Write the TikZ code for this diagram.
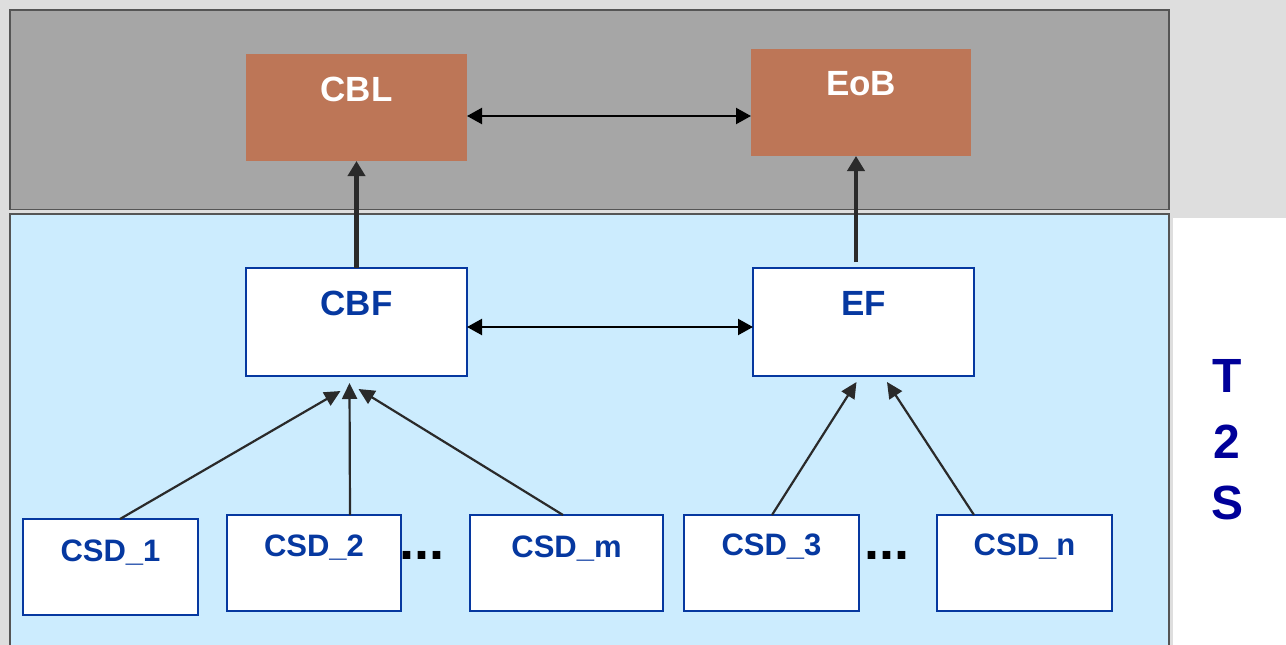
\documentclass[tikz,border=0pt]{standalone}
\usepackage{fontspec}
\setmainfont{Liberation Sans}
\usetikzlibrary{arrows.meta,calc}
\definecolor{bggray}{HTML}{DEDEDE}
\definecolor{panelgray}{HTML}{A6A6A6}
\definecolor{panelblue}{HTML}{CCECFE}
\definecolor{panelline}{HTML}{555555}
\definecolor{rust}{HTML}{BD7657}
\definecolor{boxblue}{HTML}{0638A0}
\definecolor{navy}{HTML}{000099}
\definecolor{darkline}{HTML}{2A2A2A}
\tikzset{
  panel/.style={draw=panelline, line width=1.2pt, anchor=north west, inner sep=0pt, outer sep=0pt},
  obox/.style={fill=rust, anchor=north west, inner sep=0pt, outer sep=0pt, minimum width=221pt, minimum height=107pt},
  wbox/.style={fill=white, draw=boxblue, line width=2.2pt, anchor=north west, inner sep=0pt, outer sep=0pt},
  biglbl/.style={anchor=base, inner sep=0pt, font=\fontsize{35}{40}\selectfont\bfseries},
  smalllbl/.style={anchor=base, inner sep=0pt, text=boxblue, font=\fontsize{31}{36}\selectfont\bfseries},
  dots/.style={anchor=base, inner sep=0pt, font=\fontsize{54}{58}\selectfont\bfseries},
  sidelbl/.style={anchor=base, inner sep=0pt, text=navy, font=\fontsize{48}{52}\selectfont\bfseries},
  dblarrow/.style={draw=black, line width=2.2pt, {Triangle[length=15pt,width=16pt]}-{Triangle[length=15pt,width=16pt]}},
  thickarrow/.style={draw=darkline, line width=4.5pt, -{Triangle[length=15pt,width=17pt]}},
  thinarrow/.style={draw=darkline, line width=2.2pt, -{Triangle[length=16pt,width=15pt]}}
}
\begin{document}
\begin{tikzpicture}[x=1pt,y=-1pt]
\useasboundingbox (0,0) rectangle (1286,645);
\fill[bggray] (0,0) rectangle (1286,645);
\fill[white] (1173,218) rectangle (1286,645);
% panels
\node[panel, fill=panelgray, minimum width=1159pt, minimum height=199.5pt] (toppanel) at (10,10) {};
\node[panel, fill=panelblue, minimum width=1159pt, minimum height=440pt] (botpanel) at (10,214) {};
% top boxes
\node[obox] (cbl) at (246,54) {};
\node[obox, minimum width=220pt] (eob) at (751,49) {};
\node[biglbl, text=white] (cblt) at ($(cbl.north)+(0,47)$) {CBL};
\node[biglbl, text=white] (eobt) at ($(eob.north)+(0,46)$) {EoB};
% middle boxes
\node[wbox, minimum width=221pt, minimum height=108pt] (cbf) at (246,268) {};
\node[wbox, minimum width=221pt, minimum height=108pt] (ef) at (753,268) {};
\node[biglbl, text=boxblue] (cbft) at ($(cbf.north)+(0,47)$) {CBF};
\node[biglbl, text=boxblue] (eft) at ($(ef.north)+(0,47)$) {EF};
% bottom boxes
\node[wbox, minimum width=175pt, minimum height=96pt] (csd1) at (23,519) {};
\node[wbox, minimum width=174pt, minimum height=96pt] (csd2) at (227,515) {};
\node[wbox, minimum width=193pt, minimum height=96pt] (csdm) at (470,515) {};
\node[wbox, minimum width=175pt, minimum height=96pt] (csd3) at (684,515) {};
\node[wbox, minimum width=175pt, minimum height=96pt] (csdn) at (937,515) {};
\node[smalllbl] (csd1t) at ($(csd1.north)+(0,42)$) {CSD\_1};
\node[smalllbl] (csd2t) at ($(csd2.north)+(0,41)$) {CSD\_2};
\node[smalllbl] (csdmt) at ($(csdm.north)+(0,42)$) {CSD\_m};
\node[smalllbl] (csd3t) at ($(csd3.north)+(0,40)$) {CSD\_3};
\node[smalllbl] (csdnt) at ($(csdn.north)+(0,40)$) {CSD\_n};
\node[dots] (dots1) at (422,559) {...};
\node[dots] (dots2) at (887,559) {...};
% side label
\node[sidelbl] (sT) at (1227,392) {T};
\node[sidelbl] (s2) at (1227,458) {2};
\node[sidelbl] (sS) at (1227,519) {S};
% connectors
\draw[dblarrow] ($(cbl.north east)+(0,62)$) -- ($(eob.north west)+(0,67)$);
\draw[dblarrow] ($(cbf.north east)+(0,59)$) -- ($(ef.north west)+(0,59)$);
\draw[thickarrow] (cbf.north) -- (cbl.south);
\draw[thickarrow] ($(ef.north west)+(103,-6)$) -- ($(eob.south west)+(105,0)$);
\draw[thinarrow] ($(csd1.north)+(9.5,0)$) -- ($(cbf.south)+(-16,15)$);
\draw[thinarrow] ($(csd2.north)+(36,0)$) -- ($(cbf.south)+(-7,7)$);
\draw[thinarrow] ($(csdm.north)+(-3.5,0)$) -- ($(cbf.south)+(2,13)$);
\draw[thinarrow] ($(csd3.north)+(0.5,0)$) -- ($(ef.south)+(-7,6)$);
\draw[thinarrow] ($(csdn.north)+(-50.5,0)$) -- ($(ef.south)+(23.5,6)$);
\end{tikzpicture}
\end{document}
